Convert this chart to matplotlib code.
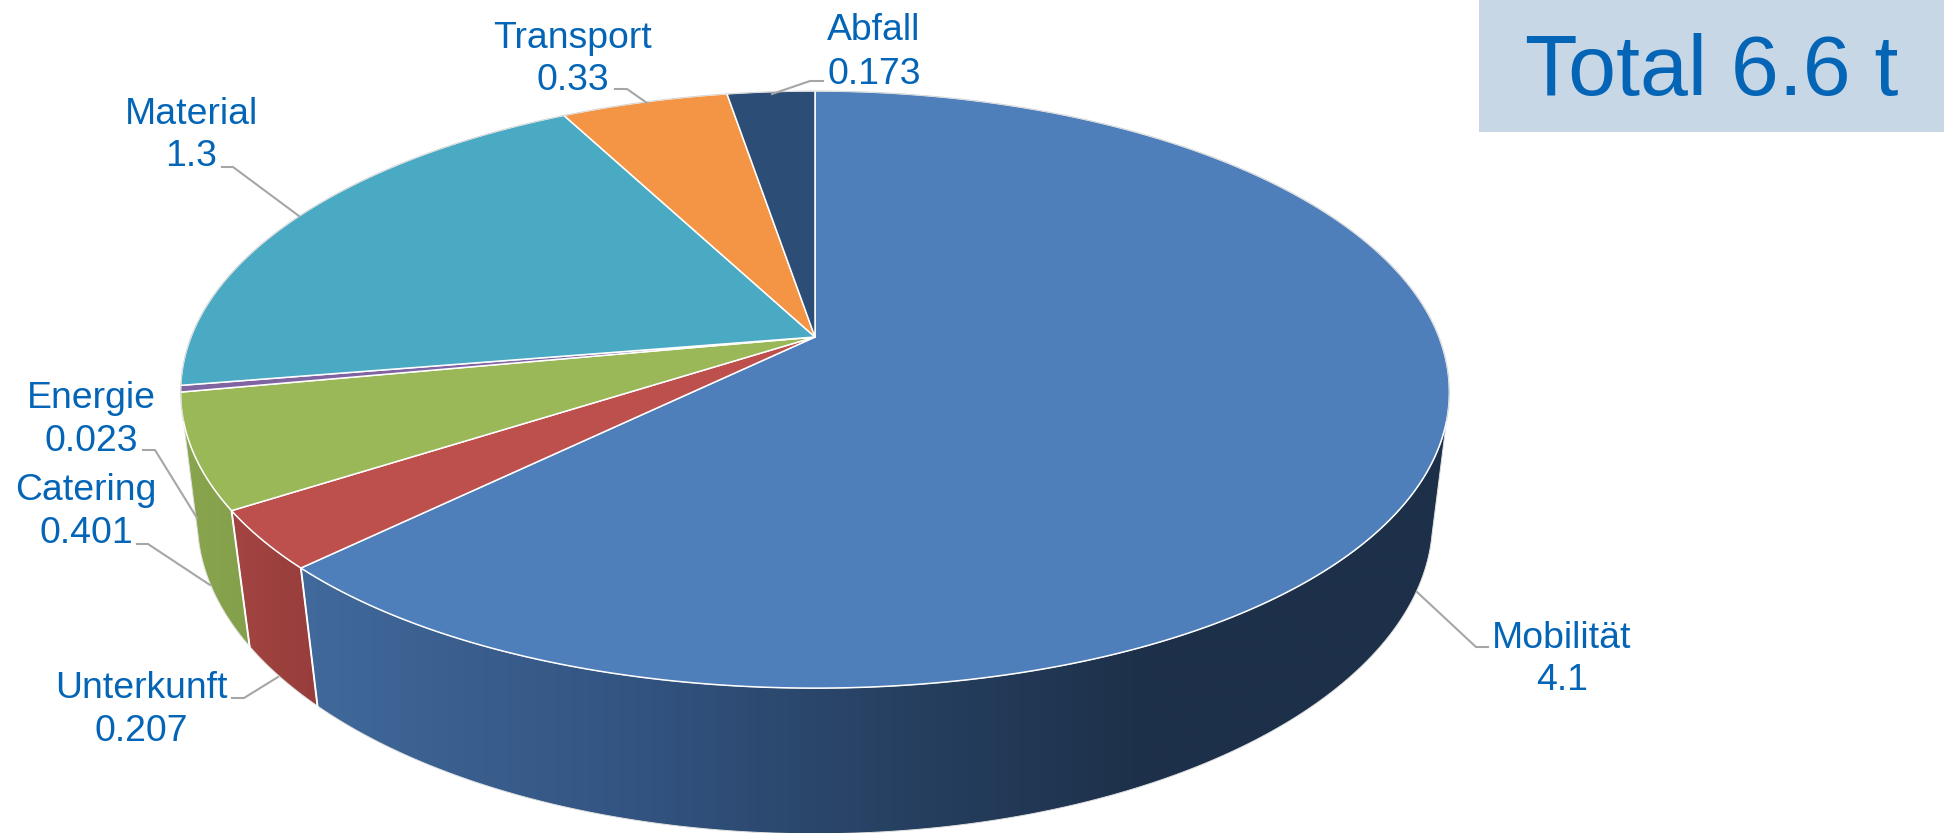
# 3D-Tortendiagramm der Emissionen (Perspektive wie im Original)
import numpy as np
import matplotlib.pyplot as plt
from matplotlib.colors import LinearSegmentedColormap
from matplotlib.patches import Polygon, Rectangle

plt.rcParams['font.family'] = ['Liberation Sans', 'DejaVu Sans']

names = ['Mobilität', 'Unterkunft', 'Catering', 'Energie', 'Material', 'Transport', 'Abfall']
values = [4.1, 0.207, 0.401, 0.023, 1.3, 0.33, 0.173]
total_text = 'Total 6.6 t'

top_colors = ['#4f7fba', '#bd4f4c', '#9bb858', '#8064a2', '#4aa9c3', '#f39545', '#2c4d75']
text_color = '#0465b6'
line_color = '#a6a6a6'

# Beschriftung: Mitte x, Grundlinie der beiden Zeilen
label_x = [1562, 141, 86, 91, 191, 573, 874]
label_y1 = [648, 698, 500, 408, 124, 48, 40]
label_y2 = [690, 741, 543, 451, 166, 90, 84]

leaders = [
    [(1417, 592), (1476, 647), (1488, 647)],
    [(278, 677), (244, 698), (232, 698)],
    [(210, 585), (148, 544), (137, 544)],
    [(197, 518), (155, 450), (143, 450)],
    [(299, 216), (233, 167), (222, 167)],
    [(647, 103), (627, 89), (615, 89)],
    [(772, 94), (810, 81), (823, 81)],
]

# Perspektive: Kreis -> Ellipse
cx, pc = 815, 0.176
top_plane = (624, -230, 337, 0.006)  # d, a, b, Ausbeulung unten
low_plane = (608, -222, 465, 0.0)


def project(theta, plane):  # Winkel im Uhrzeigersinn von oben
    d, a, b, k = plane
    t = np.radians(theta)
    r = 1 + k * np.sin(2 * t) ** 2 * (np.cos(t) < 0)
    sx, sy = r * np.sin(t), r * np.cos(t)
    w = 1 + pc * sy
    return cx + d * sx / w, (a * sy + b) / w


def arc(start, end, plane):
    n = max(int(abs(end - start) * 2), 2)
    x, y = project(np.linspace(start, end, n), plane)
    return np.column_stack([x, y])


fig = plt.figure(figsize=(19.5, 8.33), dpi=100)
ax = fig.add_axes([0, 0, 1, 1])
ax.set_xlim(0, 1950)
ax.set_ylim(833, 0)
ax.axis('off')

edges = np.concatenate([[0], np.cumsum(values)]) / sum(values) * 360
center = (cx, 337)

# Seitenwand
top_rng = (106, 254)
low_rng = (103, 257)
wall_stops = [
    [(290, '#416a9c'), (650, '#325380'), (815, '#2a466a'), (1150, '#1d3049'), (1450, '#1d3049')],
    [(220, '#a44543'), (320, '#973d3b')],
    [(170, '#8aa74f'), (255, '#839f4a')],
]
for i, stops in enumerate(wall_stops):
    s, e = edges[i], edges[i + 1]
    t0, t1 = max(s, top_rng[0]), min(e, top_rng[1])
    l0, l1 = max(s, low_rng[0]), min(e, low_rng[1])
    pts = np.vstack([arc(t0, t1, top_plane), arc(l1, l0, low_plane)])
    x0, x1 = stops[0][0], stops[-1][0]
    cmap = LinearSegmentedColormap.from_list(
        'w%d' % i, [((p - x0) / (x1 - x0), c) for p, c in stops])
    im = ax.imshow(np.linspace(0, 1, 512).reshape(1, -1), cmap=cmap, aspect='auto',
                   extent=(x0, x1, 834, 0), zorder=2, interpolation='bilinear')
    ax.set_xlim(0, 1950)
    ax.set_ylim(833, 0)
    clip = Polygon(pts, closed=True, transform=ax.transData, fc='none', ec='none')
    ax.add_patch(clip)
    im.set_clip_path(clip)
    ax.add_patch(Polygon(pts, closed=True, fc='none', ec='#e0e0e0', lw=0.7, zorder=3))

# senkrechte Trennlinien der Wand
for th in edges[1:3]:
    a = project(th, top_plane)
    b = project(th, low_plane)
    ax.plot([a[0], b[0]], [a[1], b[1]], color='white', lw=1.4, zorder=4)

# Oberseite
for i in range(len(values)):
    pts = np.vstack([[center], arc(edges[i], edges[i + 1], top_plane)])
    ax.add_patch(Polygon(pts, closed=True, fc=top_colors[i], ec='white', lw=1.1,
                         joinstyle='round', zorder=5))

# graue Außenkante hinten
back = np.vstack([arc(254, 360, top_plane), arc(0, 106, top_plane)])
ax.plot(back[:, 0], back[:, 1], color='#cfcfcf', lw=0.6, zorder=5.5)

for pts in leaders:
    ax.plot([p[0] for p in pts], [p[1] for p in pts], color=line_color, lw=1.5, zorder=6)

for i, name in enumerate(names):
    ax.text(label_x[i], label_y1[i], name, color=text_color, fontsize=26.9,
            ha='center', va='baseline', zorder=7)
    ax.text(label_x[i], label_y2[i], str(values[i]), color=text_color, fontsize=26.9,
            ha='center', va='baseline', zorder=7)

ax.add_patch(Rectangle((1479, 0), 465, 132, fc='#c8d7e6', ec='none', zorder=6))
ax.text(1712, 95, total_text, color=text_color, fontsize=62, ha='center', va='baseline', zorder=7)

fig.savefig('out.png', dpi=100)
